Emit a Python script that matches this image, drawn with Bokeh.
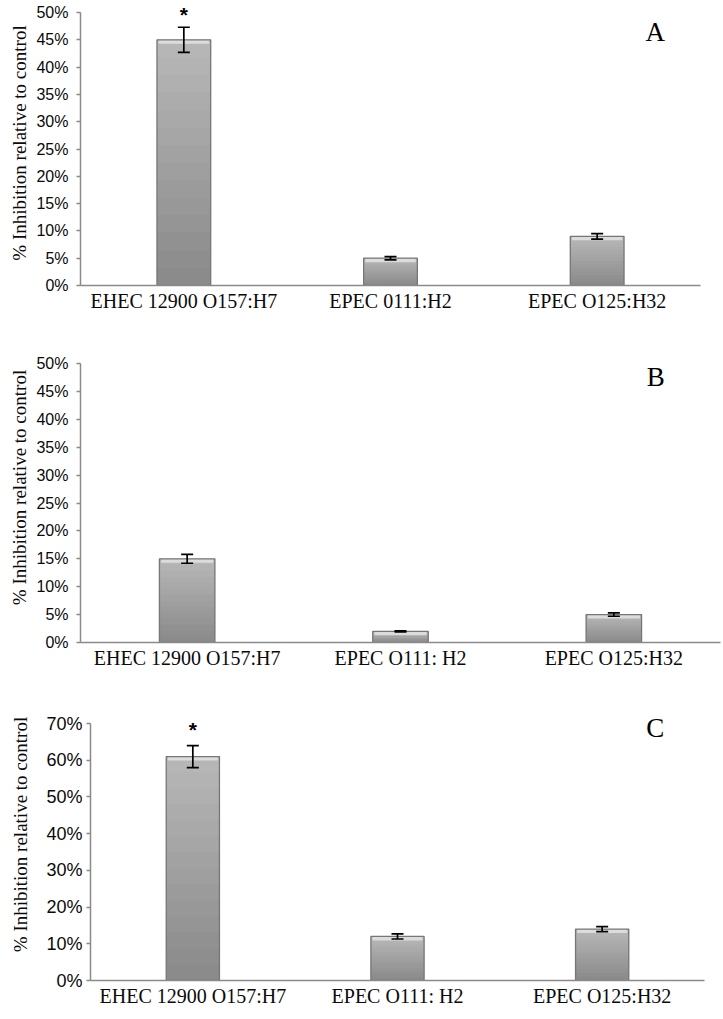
from bokeh.plotting import figure
from bokeh.layouts import column
from bokeh.models import (ColumnDataSource, Whisker, TeeHead, FixedTicker,
                          NumeralTickFormatter, FactorRange, Range1d)
from bokeh.core.properties import value
from bokeh.embed import file_html
from bokeh.resources import INLINE

# ---------------- data ----------------
cats_A = ["EHEC 12900 O157:H7", "EPEC 0111:H2", "EPEC O125:H32"]
vals_A = [0.45, 0.05, 0.09]
errs_A = [0.023, 0.003, 0.005]
sig_A = [True, False, False]

cats_B = ["EHEC 12900 O157:H7", "EPEC O111: H2", "EPEC O125:H32"]
vals_B = [0.15, 0.02, 0.05]
errs_B = [0.008, 0.001, 0.003]
sig_B = [False, False, False]

cats_C = ["EHEC 12900 O157:H7", "EPEC O111: H2", "EPEC O125:H32"]
vals_C = [0.61, 0.12, 0.14]
errs_C = [0.03, 0.007, 0.007]
sig_C = [True, False, False]

y_ticks_AB = [0, 0.05, 0.10, 0.15, 0.20, 0.25, 0.30, 0.35, 0.40, 0.45, 0.50]
y_ticks_C = [0, 0.10, 0.20, 0.30, 0.40, 0.50, 0.60, 0.70]

Y_TITLE = "% Inhibition relative to control"
SERIF = "Liberation Serif"
SANS = "Liberation Sans"
W = 723


def hex_lerp(c1, c2, t):
    a = [int(c1[i:i + 2], 16) for i in (1, 3, 5)]
    b = [int(c2[i:i + 2], 16) for i in (1, 3, 5)]
    return "#%02x%02x%02x" % tuple(int(round(a[k] + (b[k] - a[k]) * t)) for k in range(3))


def panel(cats, vals, errs, sig, ticks, letter, letter_frac, letter_dx,
          height, top_gap, bottom, left, right, tick_font, tick_standoff,
          title_standoff, star_dy):
    ymax = ticks[-1]
    frame_h = height - bottom
    axis_h = frame_h - top_gap
    y_end = ymax * frame_h / axis_h
    p = figure(x_range=FactorRange(*cats), y_range=Range1d(0, y_end),
               width=W, height=height, output_backend="svg", toolbar_location=None,
               min_border_top=0, min_border_bottom=bottom,
               min_border_left=left, min_border_right=right)
    if "frame_align" in type(p).properties():
        p.frame_align = False
    p.outline_line_color = None
    p.xgrid.grid_line_color = None
    p.ygrid.grid_line_color = None
    p.background_fill_color = "white"

    # gradient bars built from overlapping slices
    n = 14
    bw = 0.26
    for k in range(n):
        src = ColumnDataSource(dict(x=cats,
                                    b=[v * k / n for v in vals],
                                    t=[v * min(k + 1.5, n) / n for v in vals]))
        col = hex_lerp("#898989", "#b8b8b8", (k + 0.5) / n)
        p.vbar(x="x", bottom="b", top="t", width=bw, source=src,
               fill_color=col, line_color=None)
    # top highlight band
    hl = 4 * y_end / frame_h
    src_hl = ColumnDataSource(dict(x=cats, b=[v - hl for v in vals], t=vals))
    p.vbar(x="x", bottom="b", top="t", width=bw * 0.94, source=src_hl,
           fill_color="#dcdcdc", line_color=None)
    # outline
    p.vbar(x=cats, top=vals, width=bw, fill_color=None,
           line_color="#767676", line_width=1.3)

    # error bars
    esrc = ColumnDataSource(dict(x=cats,
                                 up=[v + e for v, e in zip(vals, errs)],
                                 lo=[v - e for v, e in zip(vals, errs)]))
    wk = Whisker(base="x", upper="up", lower="lo", source=esrc, level="overlay",
                 line_color="black", line_width=1.7,
                 upper_head=TeeHead(size=12, line_width=1.7, line_color="black"),
                 lower_head=TeeHead(size=12, line_width=1.7, line_color="black"))
    p.add_layout(wk)

    # significance stars
    sx = [c for c, s in zip(cats, sig) if s]
    sy = [v + e for v, e, s in zip(vals, errs, sig) if s]
    if sx:
        p.text(x=sx, y=sy, text=["*"] * len(sx), text_align="center",
               text_baseline="alphabetic", y_offset=star_dy,
               text_font=value(SANS), text_font_style="bold",
               text_font_size="21px", text_color="black")

    # panel letter
    p.text(x=[cats[-1]], y=[ymax * letter_frac], text=[letter],
           x_offset=letter_dx, text_align="center", text_baseline="middle",
           text_font=value(SERIF), text_font_size="27px", text_color="black")

    # axes
    ya = p.yaxis[0]
    ya.bounds = (0, ymax)
    ya.ticker = FixedTicker(ticks=ticks)
    ya.formatter = NumeralTickFormatter(format="0%")
    ya.axis_line_color = "#8a8a8a"
    ya.axis_line_width = 1.5
    ya.major_tick_line_color = "#8a8a8a"
    ya.major_tick_line_width = 1.5
    ya.major_tick_out = 4
    ya.major_tick_in = 0
    ya.minor_tick_line_color = None
    ya.major_label_text_font = SANS
    ya.major_label_text_font_size = tick_font
    ya.major_label_text_color = "#0a0a0a"
    ya.major_label_standoff = tick_standoff
    ya.axis_label = Y_TITLE
    ya.axis_label_text_font = SERIF
    ya.axis_label_text_font_style = "normal"
    ya.axis_label_text_font_size = "19px"
    ya.axis_label_text_color = "#0a0a0a"
    ya.axis_label_standoff = title_standoff

    xa = p.xaxis[0]
    xa.axis_line_color = "#8a8a8a"
    xa.axis_line_width = 1.5
    xa.major_tick_line_color = None
    xa.major_tick_out = 0
    xa.major_tick_in = 0
    xa.minor_tick_line_color = None
    xa.major_label_text_font = SERIF
    xa.major_label_text_font_size = "20px"
    xa.major_label_text_color = "#0a0a0a"
    xa.major_label_standoff = 4
    return p


pA = panel(cats_A, vals_A, errs_A, sig_A, y_ticks_AB, "A", 0.93, 58,
           height=332, top_gap=12, bottom=47, left=80, right=23,
           tick_font="16px", tick_standoff=8, title_standoff=3, star_dy=-13)
pB = panel(cats_B, vals_B, errs_B, sig_B, y_ticks_AB, "B", 0.95, 42,
           height=356, top_gap=31, bottom=46, left=80, right=3,
           tick_font="16px", tick_standoff=8, title_standoff=3, star_dy=0)
pC = panel(cats_C, vals_C, errs_C, sig_C, y_ticks_C, "C", 0.984, 53,
           height=331, top_gap=35, bottom=39, left=90, right=19,
           tick_font="18px", tick_standoff=4, title_standoff=12, star_dy=-16)

layout = column(pA, pB, pC, spacing=0)
open("out.html", "w").write(file_html(layout, INLINE))
